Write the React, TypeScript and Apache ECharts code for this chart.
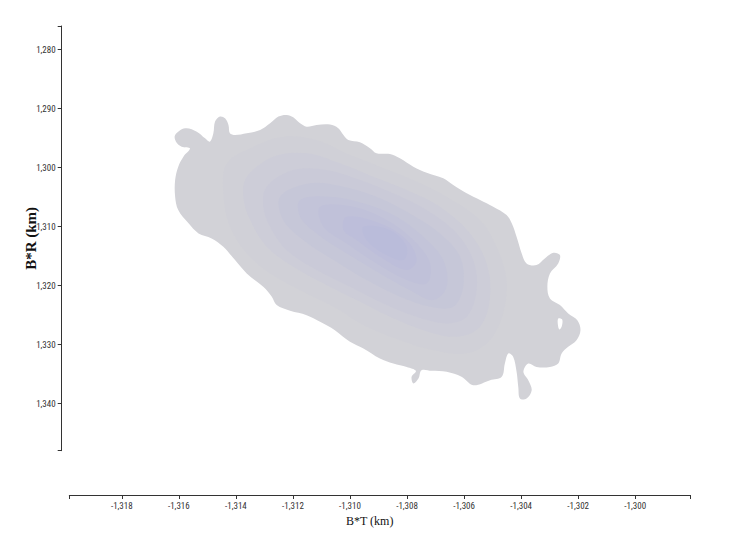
import React, { useEffect, useRef } from "react";
import * as echarts from "echarts";

// Axis ticks (km)
const X_TICKS = [-1318, -1316, -1314, -1312, -1310, -1308, -1306, -1304, -1302, -1300];
const Y_TICKS = [1280, 1290, 1300, 1310, 1320, 1330, 1340];
const X_DOMAIN = [-1319.84, -1298.08];
const Y_DOMAIN = [1276, 1348];

// Density contours, [B*T, B*R] in km, outermost first
const contour0 = [
  [-1316.13, 1294.48], [-1315.78, 1293.34], [-1315.37, 1293.91], [-1315.08, 1295.04], [-1314.91, 1295.61],
  [-1314.79, 1294.19], [-1314.73, 1292.21], [-1314.56, 1291.36], [-1314.38, 1291.65], [-1314.26, 1292.78],
  [-1314.21, 1294.19], [-1314.03, 1294.48], [-1313.62, 1294.19], [-1313.15, 1293.63], [-1312.8, 1292.5],
  [-1312.51, 1291.36], [-1312.22, 1291.08], [-1311.99, 1291.48], [-1311.75, 1292.5], [-1311.52, 1293.06],
  [-1311.17, 1292.78], [-1310.7, 1292.72], [-1310.41, 1293.34], [-1310.23, 1294.48], [-1310.06, 1295.32],
  [-1309.65, 1295.72], [-1309.3, 1296.74], [-1309.07, 1297.59], [-1308.6, 1297.7], [-1308.25, 1298.43],
  [-1307.78, 1299.85], [-1307.31, 1300.87], [-1306.73, 1301.83], [-1306.38, 1302.96], [-1305.91, 1304.37],
  [-1305.44, 1305.5], [-1304.98, 1306.64], [-1304.51, 1308.05], [-1304.33, 1309.46], [-1304.16, 1311.73],
  [-1303.98, 1314.55], [-1303.81, 1316.25], [-1303.46, 1316.53], [-1303.17, 1315.4], [-1302.87, 1314.44],
  [-1302.64, 1314.84], [-1302.7, 1316.25], [-1302.99, 1317.95], [-1303.08, 1320.21], [-1302.99, 1322.19],
  [-1302.64, 1323.32], [-1302.35, 1324.74], [-1302.03, 1325.87], [-1301.92, 1327.56], [-1302.06, 1329.26],
  [-1302.35, 1330.39], [-1302.58, 1331.52], [-1302.7, 1333.22], [-1302.99, 1333.79], [-1303.46, 1333.79],
  [-1303.75, 1333.22], [-1303.92, 1334.63], [-1303.75, 1336.05], [-1303.63, 1337.74], [-1303.81, 1339.16],
  [-1304.04, 1339.16], [-1304.1, 1337.18], [-1304.16, 1334.63], [-1304.28, 1332.09], [-1304.45, 1331.52],
  [-1304.57, 1333.22], [-1304.68, 1335.48], [-1305.09, 1336.05], [-1305.68, 1336.9], [-1306.09, 1335.48],
  [-1306.61, 1334.63], [-1307.14, 1334.46], [-1307.49, 1334.35], [-1307.6, 1335.77], [-1307.78, 1336.61],
  [-1307.84, 1335.48], [-1307.69, 1334.46], [-1308.01, 1333.79], [-1308.48, 1333.22], [-1308.95, 1332.37],
  [-1309.53, 1330.67], [-1310.0, 1329.54], [-1310.53, 1327.56], [-1311.05, 1326.15], [-1311.52, 1325.02],
  [-1312.1, 1324.28], [-1312.57, 1323.32], [-1312.74, 1321.91], [-1313.04, 1320.21], [-1313.62, 1317.95],
  [-1314.03, 1315.69], [-1314.44, 1313.42], [-1314.85, 1312.01], [-1315.31, 1311.16], [-1315.66, 1309.46],
  [-1316.02, 1307.2], [-1316.13, 1304.94], [-1316.13, 1302.11], [-1316.02, 1299.85], [-1315.84, 1298.15],
  [-1315.61, 1296.74], [-1315.9, 1296.46], [-1316.1, 1295.61],
];
const contour1 = [
  [-1314.32, 1299.28], [-1313.39, 1296.46], [-1312.34, 1294.76], [-1311.17, 1295.32], [-1310.12, 1297.59],
  [-1308.95, 1299.85], [-1307.78, 1302.11], [-1306.61, 1304.94], [-1305.44, 1308.9], [-1304.86, 1313.42],
  [-1304.51, 1319.08], [-1304.63, 1324.74], [-1305.09, 1329.26], [-1305.91, 1331.52], [-1307.08, 1330.96],
  [-1308.25, 1329.26], [-1309.42, 1327.0], [-1310.58, 1323.6], [-1311.75, 1320.78], [-1312.8, 1317.95],
  [-1313.62, 1314.55], [-1314.21, 1310.03], [-1314.44, 1304.37],
];
const contour2 = [
  [-1313.62, 1301.55], [-1312.69, 1298.15], [-1311.52, 1297.59], [-1310.35, 1299.28], [-1309.18, 1301.55],
  [-1308.01, 1303.81], [-1306.85, 1306.64], [-1305.79, 1311.16], [-1305.21, 1316.25], [-1305.09, 1321.91],
  [-1305.44, 1327.0], [-1306.26, 1328.69], [-1307.43, 1327.56], [-1308.6, 1325.3], [-1309.77, 1322.47],
  [-1310.93, 1319.65], [-1311.99, 1316.82], [-1312.92, 1313.42], [-1313.5, 1308.9], [-1313.74, 1304.94],
];
const contour3 = [
  [-1312.92, 1303.24], [-1311.99, 1300.41], [-1310.82, 1300.41], [-1309.65, 1302.11], [-1308.48, 1304.37],
  [-1307.31, 1307.2], [-1306.26, 1311.16], [-1305.68, 1315.69], [-1305.56, 1320.78], [-1305.91, 1325.3],
  [-1306.61, 1326.43], [-1307.66, 1325.3], [-1308.83, 1323.04], [-1310.0, 1320.21], [-1311.17, 1317.38],
  [-1312.22, 1313.99], [-1312.8, 1310.03], [-1313.04, 1306.64],
];
const contour4 = [
  [-1312.45, 1304.94], [-1311.4, 1302.68], [-1310.23, 1303.24], [-1309.07, 1304.94], [-1307.9, 1307.77],
  [-1306.85, 1311.16], [-1306.14, 1315.12], [-1306.03, 1320.21], [-1306.38, 1323.6], [-1307.19, 1323.6],
  [-1308.25, 1321.91], [-1309.42, 1319.08], [-1310.58, 1315.69], [-1311.64, 1312.29], [-1312.34, 1308.9],
];
const contour5 = [
  [-1311.75, 1305.5], [-1310.7, 1304.94], [-1309.53, 1306.07], [-1308.36, 1308.33], [-1307.43, 1311.73],
  [-1306.73, 1315.69], [-1306.61, 1320.21], [-1307.08, 1322.47], [-1307.9, 1320.78], [-1308.95, 1317.95],
  [-1310.12, 1314.55], [-1311.17, 1311.16], [-1311.75, 1308.33],
];
const contour6 = [
  [-1311.05, 1306.64], [-1309.88, 1306.64], [-1308.71, 1308.9], [-1307.78, 1312.29], [-1307.19, 1316.25],
  [-1307.31, 1319.65], [-1308.01, 1319.08], [-1309.07, 1316.25], [-1310.12, 1312.86], [-1310.93, 1310.03],
];
const contour7 = [
  [-1310.12, 1308.33], [-1308.95, 1309.46], [-1308.01, 1312.29], [-1307.66, 1315.69], [-1308.01, 1317.38],
  [-1308.95, 1315.12], [-1309.77, 1312.29], [-1310.23, 1310.6],
];
const contour8 = [
  [-1309.53, 1310.03], [-1308.6, 1310.6], [-1308.01, 1313.42], [-1308.13, 1315.69], [-1308.83, 1314.55],
  [-1309.42, 1312.29],
];
// small empty pocket near the right edge
const hole = [
  [-1302.7, 1325.58], [-1302.56, 1325.75], [-1302.58, 1327.0], [-1302.66, 1327.45], [-1302.71, 1326.71],
];

const CONTOURS = [contour0, contour1, contour2, contour3, contour4, contour5, contour6, contour7, contour8, hole];
const FILLS = ["#d2d2d7", "#d0d0d7", "#cdcdd8", "#cacad8", "#c6c7d8", "#c3c4d9", "#c0c1d9", "#bdbeda", "#babcda", "#ffffff"];

const fmt = (v: number) => Math.round(v).toLocaleString("en-US");
const TICK_FONT = '"Liberation Sans Narrow", "Arial Narrow", "Roboto Condensed", "Liberation Sans", sans-serif';

export default function App() {
  const ref = useRef<HTMLDivElement>(null);
  useEffect(() => {
    if (!ref.current) return;
    const chart = echarts.init(ref.current, null, { renderer: "svg" });
    const axisColor = "#333";
    chart.setOption({
      animation: false,
      backgroundColor: "#ffffff",
      grid: { left: 69.3, right: 51, top: 26, bottom: 90.3, containLabel: false },
      xAxis: {
        type: "value",
        min: X_DOMAIN[0],
        max: X_DOMAIN[1],
        position: "bottom",
        offset: 44.3,
        splitLine: { show: false },
        axisLine: { show: true, lineStyle: { color: axisColor, width: 1 } },
        axisTick: { show: true, length: 4, customValues: [X_DOMAIN[0], ...X_TICKS, X_DOMAIN[1]], lineStyle: { color: axisColor } },
        axisLabel: { customValues: X_TICKS, formatter: fmt, fontSize: 9, color: "#333", margin: 6, fontFamily: TICK_FONT },
        name: "B*T (km)",
        nameLocation: "middle",
        nameGap: 20,
        nameMoveOverlap: false,
        nameTextStyle: { fontFamily: '"Liberation Serif", "Times New Roman", serif', fontSize: 12, color: "#111", padding: [0, 20, 0, 0] },
      },
      yAxis: {
        type: "value",
        inverse: true,
        min: Y_DOMAIN[0],
        max: Y_DOMAIN[1],
        offset: 7.6,
        splitLine: { show: false },
        axisLine: { show: true, lineStyle: { color: axisColor, width: 1 } },
        axisTick: { show: true, length: 4, customValues: [Y_DOMAIN[0], ...Y_TICKS, Y_DOMAIN[1]], lineStyle: { color: axisColor } },
        axisLabel: { customValues: Y_TICKS, formatter: fmt, fontSize: 9, color: "#333", margin: 6, fontFamily: TICK_FONT },
        name: "B*R (km)",
        nameLocation: "middle",
        nameRotate: 90,
        nameGap: 23,
        nameMoveOverlap: false,
        nameTextStyle: { fontFamily: '"Liberation Serif", "Times New Roman", serif', fontSize: 15, fontWeight: "bold", color: "#111" },
      },
      series: [
        {
          type: "custom",
          coordinateSystem: "cartesian2d",
          silent: true,
          encode: { x: 0, y: 1 },
          data: CONTOURS.map((c, i) => [c[0][0], c[0][1], i]),
          renderItem: (params: any, api: any) => {
            const idx = api.value(2);
            const pts = CONTOURS[idx].map((p) => api.coord(p));
            return {
              type: "polygon",
              shape: { points: pts, smooth: 0.35 },
              style: { fill: FILLS[idx], stroke: "none" },
            };
          },
        },
      ],
    });
    return () => chart.dispose();
  }, []);
  return <div ref={ref} style={{ position: "fixed", left: 0, top: 0, width: 741, height: 541, background: "#fff" }} />;
}
